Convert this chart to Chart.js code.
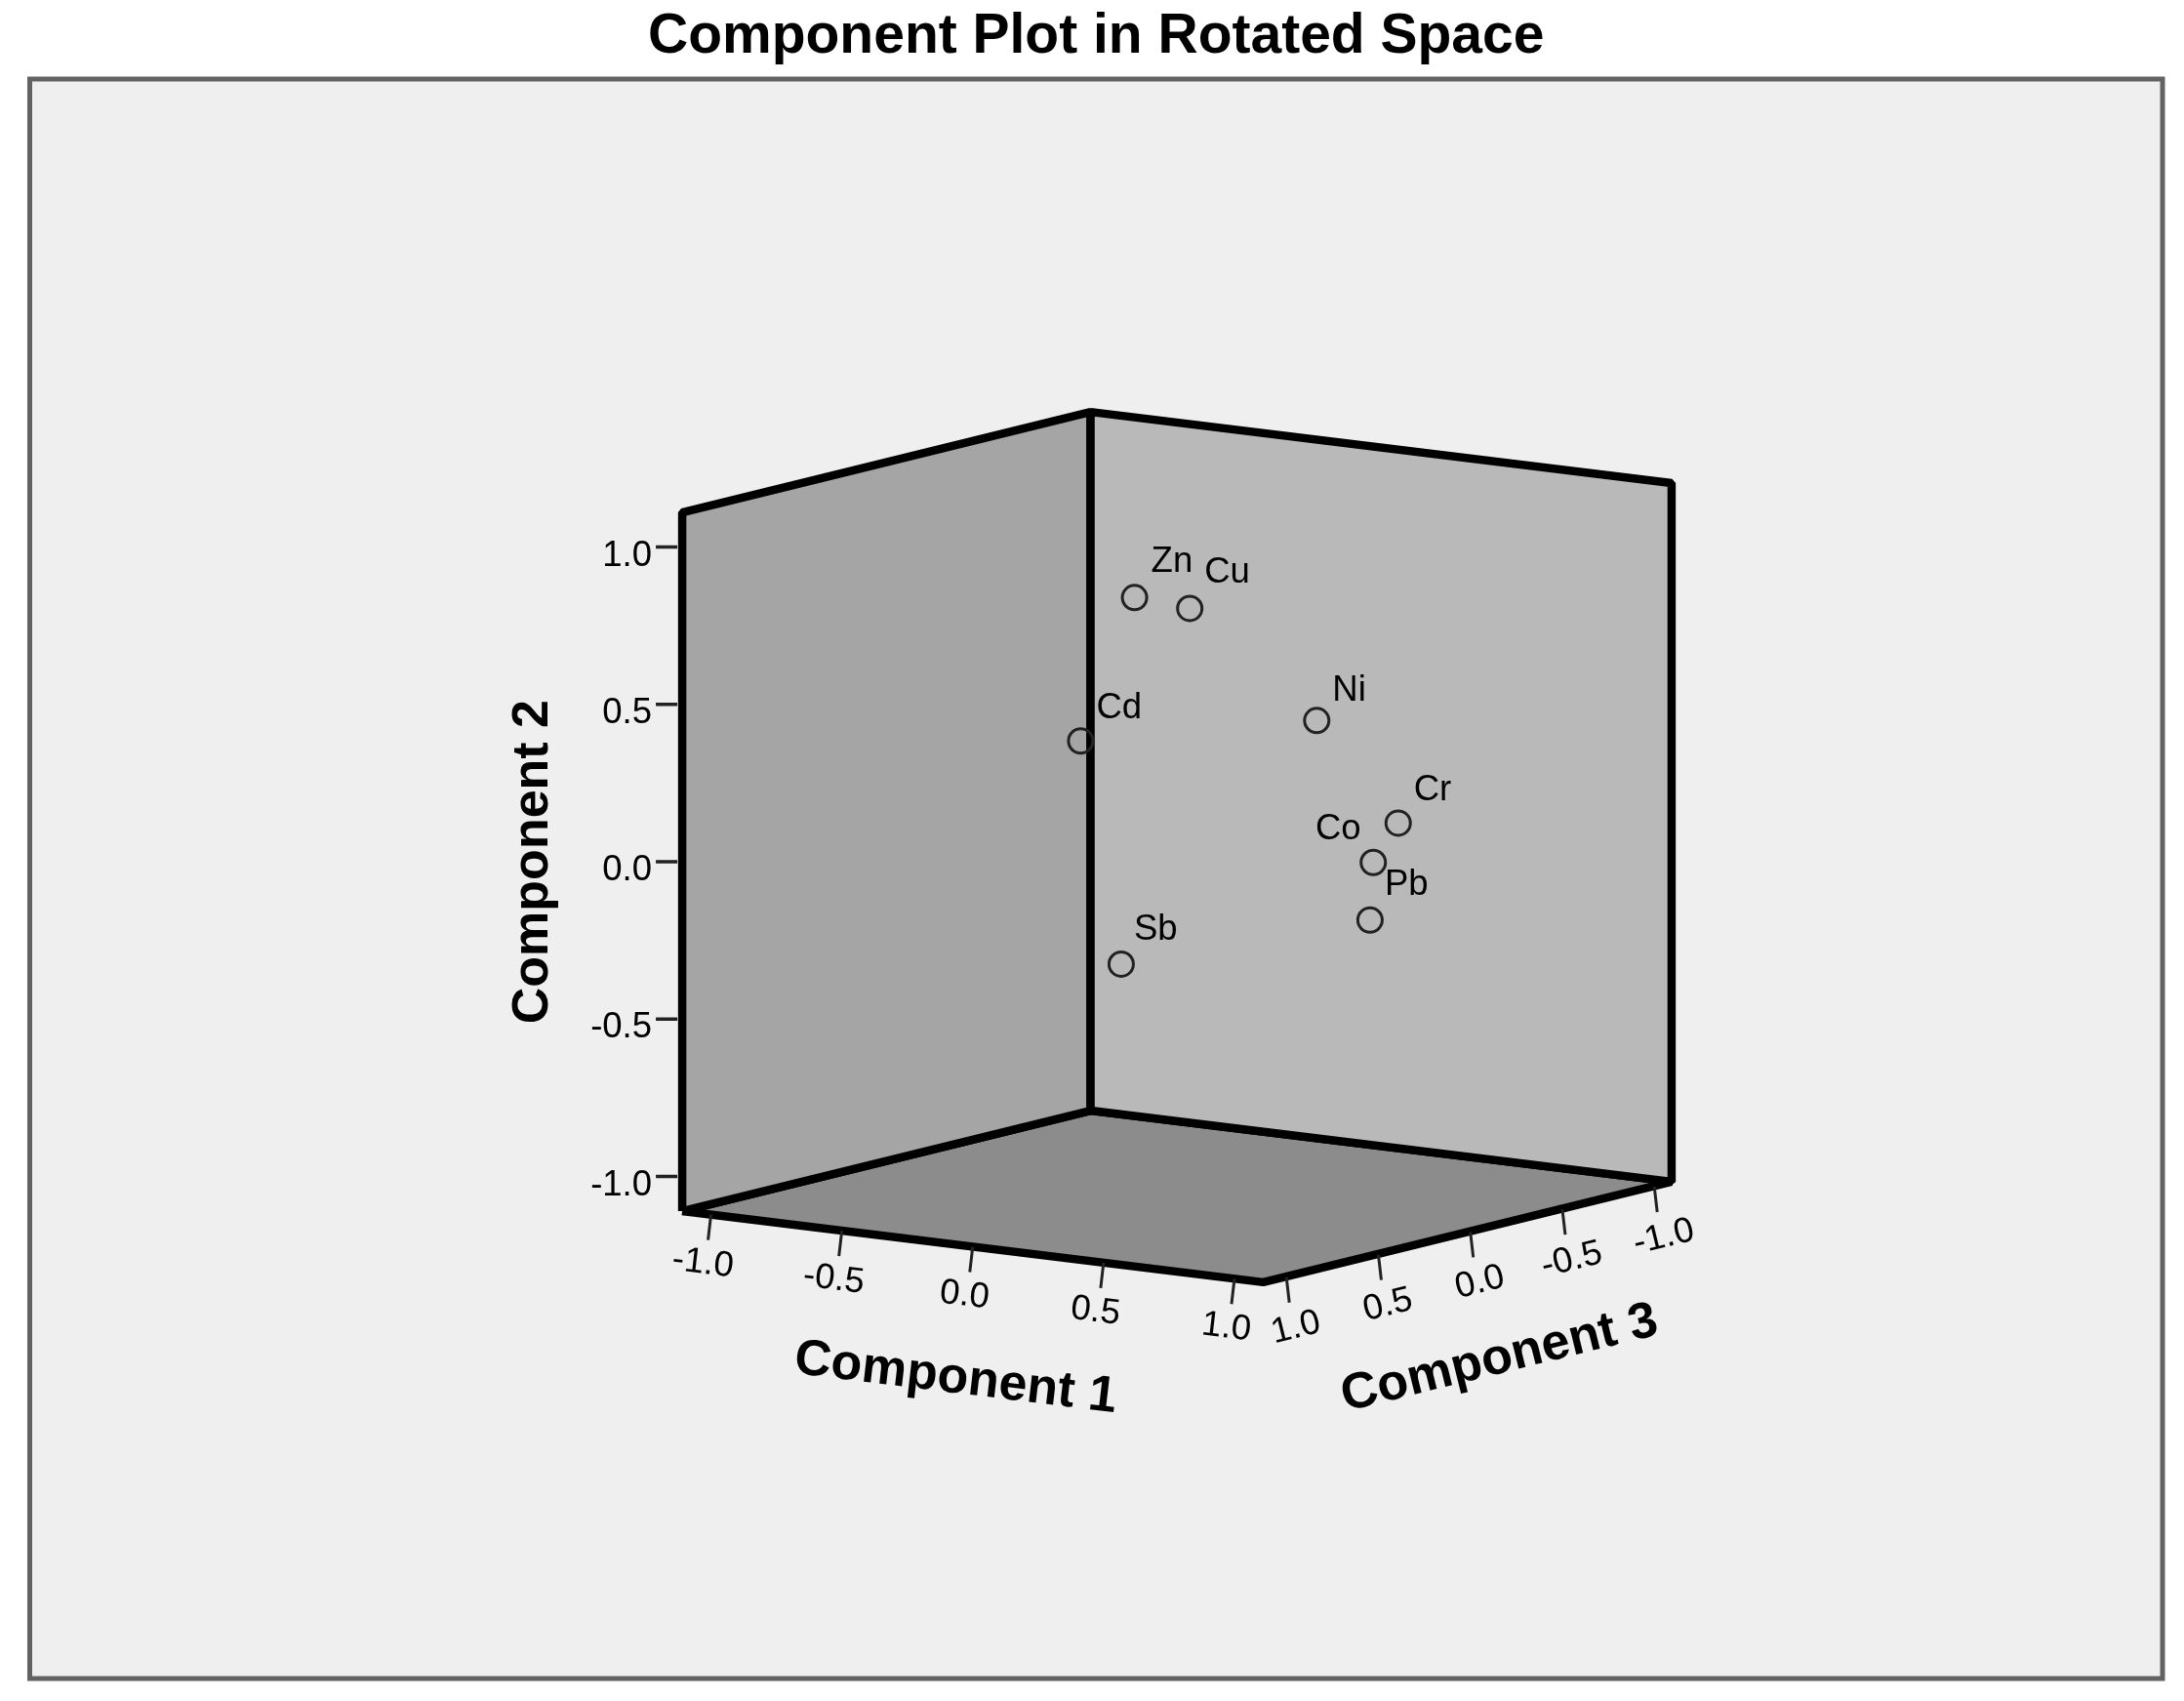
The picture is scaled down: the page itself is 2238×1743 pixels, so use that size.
<!DOCTYPE html>
<html>
<head>
<meta charset="utf-8">
<style>
html,body{margin:0;padding:0;background:#fff}
canvas{display:block;filter:blur(0.6px)}
</style>
<script src="https://cdn.jsdelivr.net/npm/chart.js@4/dist/chart.umd.min.js"></script>
</head>
<body>
<canvas id="c" width="2238" height="1743"></canvas>
<script>
// ---- data ----
const chartTitle = 'Component Plot in Rotated Space';
const variables = ['Zn','Cu','Cd','Ni','Cr','Co','Pb','Sb'];
const component1 = [0.049,0.260,0.054,0.464,0.740,0.680,0.773,-0.002];
const component2 = [0.841,0.828,0.429,0.435,0.130,0.006,-0.146,-0.329];
const component3 = [0.30,0.30,0.60,-0.10,-0.15,-0.10,0.05,0.30];
const tickValues = [-1,-0.5,0,0.5,1];
const tickLabels = ['-1.0','-0.5','0.0','0.5','1.0'];
const axisBound = 1.11;

// ---- oblique projection of the component cube to the chart's plane ----
const E1 = [268.2, 32.8], E2 = 322.5, E3 = [-188.5, 46.4];
const project = (c1,c2,c3) => ({ x: E1[0]*c1 + E3[0]*c3, y: E2*c2 - E1[1]*c1 - E3[1]*c3 });
const B = axisBound;
const gap = {x:NaN,y:NaN};
const poly = pts => pts.map(p => project(p[0],p[1],p[2]));

const leftWall  = poly([[-B,-B,B],[-B,B,B],[-B,B,-B],[-B,-B,-B],[-B,-B,B]]);
const rightWall = poly([[-B,-B,-B],[-B,B,-B],[B,B,-B],[B,-B,-B],[-B,-B,-B]]);
const floorWall = poly([[-B,-B,B],[-B,-B,-B],[B,-B,-B],[B,-B,B],[-B,-B,B]]);

const shift = (p,dx,dy) => ({x:p.x+dx,y:p.y-dy});
const ticks2 = tickValues.flatMap(v => { const p = project(-B,v,B); return [shift(p,-5,0),shift(p,-27,0),gap]; });
const ticks1 = tickValues.flatMap(v => { const p = project(v,-B,B); return [shift(p,0,0),shift(p,-3,26),gap]; });
const ticks3 = tickValues.flatMap(v => { const p = project(B,-B,v); return [shift(p,3,0),shift(p,6,26),gap]; });

const scatterPoints = variables.map((n,i) => project(component1[i],component2[i],component3[i]));

const wall = (label,data,color,order) => ({label,data,showLine:true,fill:'shape',backgroundColor:color,
  borderColor:'#000',borderWidth:8.5,borderJoinStyle:'bevel',pointRadius:0,order});
const tickSet = (label,data,w) => ({label,data,showLine:true,fill:false,borderColor:'#222',borderWidth:w,pointRadius:0,spanGaps:false,order:5});

// small nudges so each name sits where the picture has it
const labelNudge = {Zn:[0,0],Cu:[-2,0],Cd:[-1,3],Ni:[-1,6],Cr:[-1,3],Co:[0,0],Pb:[-2,0],Sb:[-4,1]};

const textPlugin = {
  id:'texts',
  beforeDraw(chart){
    const {ctx,chartArea:a} = chart;
    ctx.save();
    ctx.fillStyle='#efefef'; ctx.fillRect(a.left,a.top,a.right-a.left,a.bottom-a.top);
    ctx.restore();
  },
  afterDraw(chart){
    const {ctx,chartArea:a,scales:{x,y}} = chart;
    ctx.save();
    ctx.strokeStyle='#626262'; ctx.lineWidth=5; ctx.strokeRect(a.left,a.top,a.right-a.left,a.bottom-a.top);
    ctx.restore();
    const px = p => ({x:x.getPixelForValue(p.x),y:y.getPixelForValue(p.y)});
    const put = (str,cx,cy,u,v,size,weight,align) => {
      ctx.save();
      ctx.font = `${weight} ${size}px "Liberation Sans", Arial, sans-serif`;
      ctx.fillStyle = '#000';
      ctx.textAlign = align||'center';
      ctx.textBaseline = 'alphabetic';
      const off = 0.358*size;
      ctx.transform(u[0],u[1],v[0],v[1],cx+v[0]*off,cy+v[1]*off);
      ctx.fillText(str,0,0);
      ctx.restore();
    };
    const norm = (a,b) => { const l=Math.hypot(a,b); return [a/l,b/l]; };
    const uH=[1,0], vH=[0,1];
    const u1=norm(E1[0],E1[1]), v1=norm(-3,26);
    const u3=norm(-E3[0],-E3[1]), v3=[-u3[1],u3[0]];
    // component 2 tick labels
    tickValues.forEach((t,i)=>{ const p=px(project(-B,t,B)); put(tickLabels[i],p.x-31,p.y+6,uH,vH,36.5,'normal','right'); });
    // component 1 tick labels
    tickValues.forEach((t,i)=>{ const p=px(project(t,-B,B)); put(tickLabels[i],p.x-8,p.y+47,u1,v1,36.5,'normal'); });
    // component 3 tick labels
    tickValues.forEach((t,i)=>{ const p=px(project(B,-B,t)); put(tickLabels[i],p.x+12,p.y+49,u3,v3,36.5,'normal'); });
    // axis titles
    const m2=px(project(-B,0,B)); put('Component 2',m2.x-157,m2.y,[0,-1],[1,0],52,'bold');
    const m1=px(project(0,-B,B)); put('Component 1',m1.x-17,m1.y+131,u1,v1,52,'bold');
    const m3=px(project(B,-B,0)); put('Component 3',m3.x+32,m3.y+126,u3,v3,52,'bold');
    // point labels
    variables.forEach((n,i)=>{
      const p=px(scatterPoints[i]), d=labelNudge[n];
      if(n==='Co') put(n,p.x-36,p.y-37,uH,vH,36.5,'normal');
      else put(n,p.x+17+d[0],p.y-39+d[1],uH,vH,36.5,'normal','left');
    });
  }
};

new Chart(document.getElementById('c'),{
  type:'scatter',
  data:{datasets:[
    wall('floor',floorWall,'#8c8c8c',30),
    wall('left wall',leftWall,'#a5a5a5',20),
    wall('right wall',rightWall,'#b9b9b9',10),
    tickSet('ticks 2',ticks2,3.5),
    tickSet('ticks 1',ticks1,3),
    tickSet('ticks 3',ticks3,3),
    {label:'variables',data:scatterPoints,pointStyle:'circle',pointRadius:12.5,pointBorderWidth:3,
     pointBorderColor:'#222',pointBackgroundColor:'rgba(0,0,0,0)',order:1}
  ]},
  options:{
    responsive:false,animation:false,
    layout:{padding:{left:30.5,right:22,top:0,bottom:23}},
    scales:{
      x:{type:'linear',display:false,min:-1175.5,max:1010},
      y:{type:'linear',display:false,min:-852,max:787}
    },
    plugins:{
      legend:{display:false},tooltip:{enabled:false},
      title:{display:true,text:chartTitle,color:'#000',
        font:{family:'"Liberation Sans", Arial, sans-serif',size:57,weight:'bold',lineHeight:1.2},
        padding:{top:4,bottom:8.6}}
    }
  },
  plugins:[textPlugin]
});
</script>
</body>
</html>
